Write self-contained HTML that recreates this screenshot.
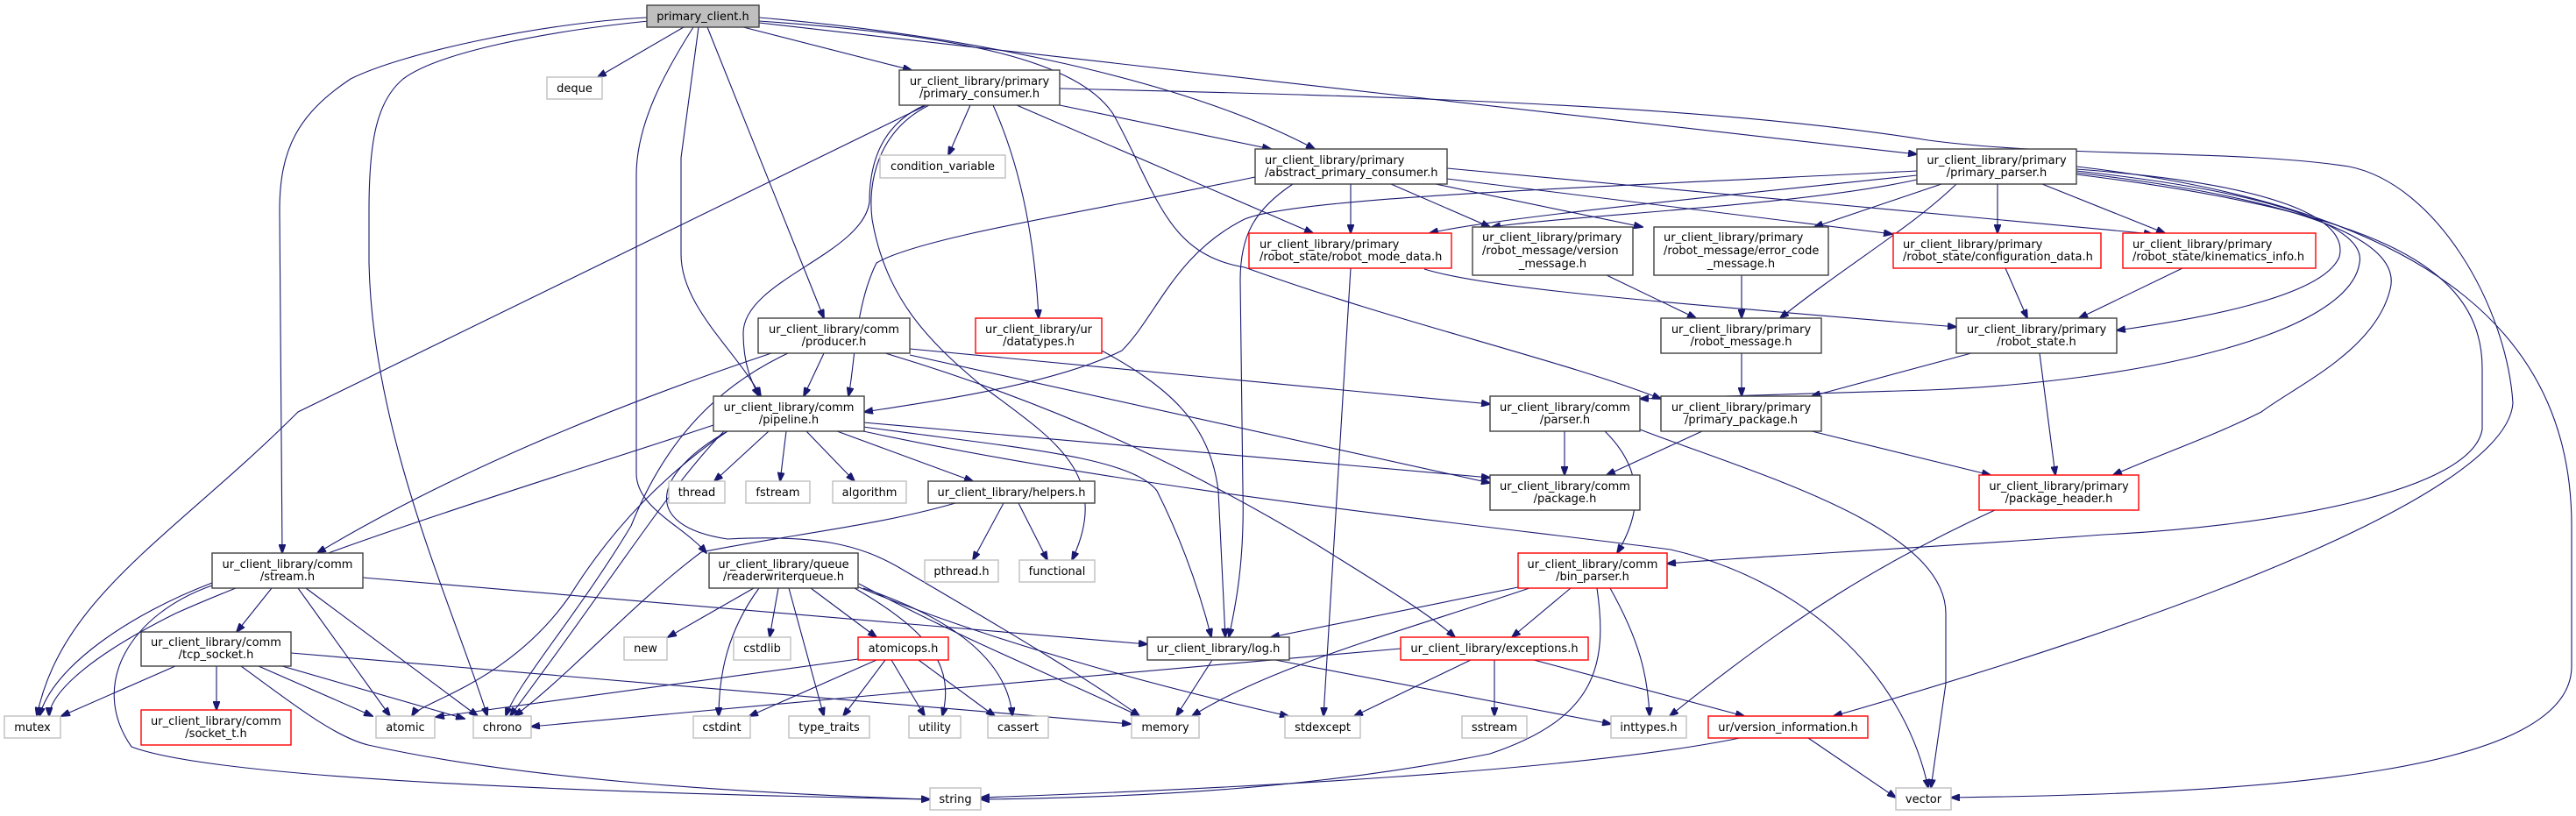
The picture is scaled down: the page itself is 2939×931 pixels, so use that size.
<!DOCTYPE html>
<html><head><meta charset="utf-8"><style>
html,body{margin:0;padding:0;background:#fff;}
svg{display:block;}
text{font-family:"DejaVu Sans","Liberation Sans",sans-serif;font-size:13px;fill:#000;}
.k{fill:#fff;stroke:#404040;stroke-width:1.4;}
.r{fill:#fff;stroke:#ff0000;stroke-width:1.4;}
.g{fill:#fff;stroke:#bfbfbf;stroke-width:1.4;}
.e{fill:none;stroke:#191970;stroke-width:1.1;marker-end:url(#a);}
.c{text-anchor:middle;}
</style></head><body>
<svg width="2939" height="931" viewBox="0 0 2939 931" xmlns="http://www.w3.org/2000/svg">
<defs><marker id="a" markerWidth="11" markerHeight="8" refX="10" refY="4" orient="auto" markerUnits="userSpaceOnUse"><path d="M0,0 L11,4 L0,8 z" fill="#191970" stroke="#191970"/></marker></defs>
<g>
<path class="e" d="M780,31 L682,88"/>
<path class="e" d="M738,20 C620,26 460,60 400,90 C340,130 319,170 319,240 L322,631"/>
<path class="e" d="M740,24 C620,36 500,60 460,90 C430,115 421,160 421,240 L421,300 C425,500 520,700 556,817"/>
<path class="e" d="M791,31 C760,80 726,140 726,200 L726,540 C726,580 780,600 806,631"/>
<path class="e" d="M797,31 L777,180 L777,290 C777,350 840,400 868,452"/>
<path class="e" d="M807,31 L940,363"/>
<path class="e" d="M848,31 L1040,80"/>
<path class="e" d="M866,20 C1100,40 1350,90 1500,170"/>
<path class="e" d="M866,26 L2187,176"/>
<path class="e" d="M866,24 C1100,40 1230,70 1270,130 C1320,220 1330,290 1420,305 C1600,370 1780,410 1895,455"/>
<path class="e" d="M1057,120 L340,470 C200,610 70,680 42,817"/>
<path class="e" d="M1055,120 C1010,140 992,180 992,230 C985,290 848,320 848,380 C848,420 860,440 866,452"/>
<path class="e" d="M1107,120 L1082,177"/>
<path class="e" d="M1133,120 C1160,180 1180,260 1185,363"/>
<path class="e" d="M1160,120 L1498,266"/>
<path class="e" d="M1209,120 L1450,170"/>
<path class="e" d="M1060,120 C1000,150 990,210 995,250 C1010,340 1060,390 1120,440 C1200,500 1270,540 1223,639"/>
<path class="e" d="M1209,101 C1600,110 1950,120 2200,160 C2350,180 2550,170 2680,190 C2780,210 2860,350 2867,460 C2860,560 2500,700 2092,817"/>
<path class="e" d="M1432,202 C1250,240 1050,270 1000,300 C975,350 975,420 968,452"/>
<path class="e" d="M1475,210 C1430,240 1415,270 1415,320 L1418,560 C1420,640 1410,690 1402,727"/>
<path class="e" d="M1541,210 L1541,266"/>
<path class="e" d="M1587,210 L1700,259"/>
<path class="e" d="M1638,210 L1874,259"/>
<path class="e" d="M1651,204 L2159,267"/>
<path class="e" d="M1651,192 L2456,267"/>
<path class="e" d="M2187,195 C1800,215 1480,225 1420,250 C1340,290 1320,360 1280,400 C1200,440 1050,460 986,470"/>
<path class="e" d="M2187,200 C1900,230 1700,250 1631,266"/>
<path class="e" d="M2187,205 C2050,235 1800,245 1702,259"/>
<path class="e" d="M2215,210 L2070,259"/>
<path class="e" d="M2232,210 C2180,260 2110,300 2031,363"/>
<path class="e" d="M2279,210 L2279,266"/>
<path class="e" d="M2330,210 L2470,266"/>
<path class="e" d="M2369,193 C2600,210 2680,250 2669,293 C2650,340 2500,365 2415,377"/>
<path class="e" d="M2369,195 C2600,220 2700,260 2692,300 C2680,380 2450,435 2200,445 L1871,455"/>
<path class="e" d="M2369,197 C2650,230 2740,280 2727,330 C2710,400 2620,440 2580,470 C2520,500 2460,520 2411,542"/>
<path class="e" d="M2369,199 C2700,240 2832,300 2832,420 L2832,490 C2820,560 2600,600 2400,610 C2200,625 2000,635 1902,643"/>
<path class="e" d="M2369,190 C2800,240 2934,400 2934,600 L2934,760 C2934,880 2600,905 2226,910"/>
<path class="e" d="M1625,307 C1700,330 1900,345 2232,373"/>
<path class="e" d="M1833,314 L1935,363"/>
<path class="e" d="M1987,314 L1987,363"/>
<path class="e" d="M2288,306 L2313,363"/>
<path class="e" d="M2490,306 L2372,363"/>
<path class="e" d="M1987,403 L1987,452"/>
<path class="e" d="M2249,403 L2067,452"/>
<path class="e" d="M2327,403 L2345,542"/>
<path class="e" d="M2067,492 L2271,542"/>
<path class="e" d="M1942,492 L1833,542"/>
<path class="e" d="M1541,306 L1510,817"/>
<path class="e" d="M1257,400 C1330,440 1380,480 1390,560 L1398,727"/>
<path class="e" d="M1785,492 L1785,542"/>
<path class="e" d="M1831,492 C1880,540 1870,590 1845,631"/>
<path class="e" d="M1871,490 C2000,540 2220,600 2220,700 L2220,780 L2203,899"/>
<path class="e" d="M2276,582 C2150,640 2050,700 1905,817"/>
<path class="e" d="M1732,670 L1450,727"/>
<path class="e" d="M1745,671 C1600,720 1450,760 1360,817"/>
<path class="e" d="M1792,671 L1725,727"/>
<path class="e" d="M1822,671 C1835,760 1820,820 1700,860 C1500,900 1300,910 1119,912"/>
<path class="e" d="M1837,671 C1870,730 1880,770 1882,817"/>
<path class="e" d="M1598,740 L1000,793 L606,829"/>
<path class="e" d="M1678,753 L1545,817"/>
<path class="e" d="M1705,753 L1705,817"/>
<path class="e" d="M1750,753 L1990,817"/>
<path class="e" d="M1383,753 L1342,817"/>
<path class="e" d="M1455,753 L1838,826"/>
<path class="e" d="M1985,842 C1800,880 1400,900 1119,910"/>
<path class="e" d="M2063,842 L2163,910"/>
<path class="e" d="M200,760 L70,817"/>
<path class="e" d="M247,760 L247,810"/>
<path class="e" d="M295,760 L425,817"/>
<path class="e" d="M322,760 L530,820"/>
<path class="e" d="M275,760 C330,800 380,840 420,850 C600,890 850,905 1061,912"/>
<path class="e" d="M332,745 L1290,826"/>
<path class="e" d="M310,671 L270,721"/>
<path class="e" d="M242,665 C150,700 60,760 45,817"/>
<path class="e" d="M340,671 L445,817"/>
<path class="e" d="M349,671 L545,817"/>
<path class="e" d="M242,668 C150,700 100,780 150,852 C250,890 700,905 1061,912"/>
<path class="e" d="M414,659 L1309,735"/>
<path class="e" d="M880,403 C650,480 480,560 362,631"/>
<path class="e" d="M940,403 L917,452"/>
<path class="e" d="M899,403 C820,440 760,500 720,600 C660,700 590,780 577,817"/>
<path class="e" d="M1038,398 L1700,461"/>
<path class="e" d="M1038,405 L1700,551"/>
<path class="e" d="M1010,403 C1200,460 1350,530 1500,620 C1580,670 1630,700 1660,727"/>
<path class="e" d="M814,485 C650,540 380,620 200,700 C80,760 56,800 56,817"/>
<path class="e" d="M830,492 C760,540 700,600 650,680 C580,780 480,800 470,817"/>
<path class="e" d="M826,492 C760,560 700,660 582,817"/>
<path class="e" d="M877,492 L815,549"/>
<path class="e" d="M897,492 L890,549"/>
<path class="e" d="M920,492 L975,549"/>
<path class="e" d="M955,492 L1110,549"/>
<path class="e" d="M985,482 L1700,545"/>
<path class="e" d="M985,487 C1150,510 1290,520 1320,560 C1350,620 1370,680 1382,727"/>
<path class="e" d="M985,492 C1300,560 1700,600 1906,627 C2050,660 2170,760 2200,899"/>
<path class="e" d="M830,492 C745,540 730,600 830,615 C930,610 980,620 1030,650 C1150,720 1250,780 1300,817"/>
<path class="e" d="M1145,574 L1110,639"/>
<path class="e" d="M1162,574 L1195,639"/>
<path class="e" d="M1090,574 C1000,600 900,610 800,630 C720,690 650,770 587,817"/>
<path class="e" d="M860,671 L762,727"/>
<path class="e" d="M866,671 C830,720 820,770 820,817"/>
<path class="e" d="M888,671 L878,727"/>
<path class="e" d="M900,671 L940,817"/>
<path class="e" d="M925,671 L1000,727"/>
<path class="e" d="M975,671 C1060,720 1090,760 1075,817"/>
<path class="e" d="M985,671 C1100,710 1150,760 1155,817"/>
<path class="e" d="M980,666 C1100,730 1200,770 1300,817"/>
<path class="e" d="M975,668 C1150,740 1350,790 1470,817"/>
<path class="e" d="M979,752 L497,818"/>
<path class="e" d="M1000,753 L855,817"/>
<path class="e" d="M1010,753 L962,817"/>
<path class="e" d="M1017,753 L1055,817"/>
<path class="e" d="M1048,753 L1135,817"/>
</g>
<rect x="738" y="6" width="128" height="25" fill="#bfbfbf" stroke="#404040" stroke-width="1.4"/>
<text class="c" x="802" y="23">primary_client.h</text>
<rect class="g" x="624" y="88" width="63" height="25"/><text class="c" x="655.5" y="105">deque</text>
<rect class="k" x="1026" y="80" width="183" height="40"/><text class="c" x="1117.5" y="97">ur_client_library/primary</text><text class="c" x="1117.5" y="111">/primary_consumer.h</text>
<rect class="g" x="1004" y="177" width="143" height="26"/><text class="c" x="1075.5" y="194">condition_variable</text>
<rect class="k" x="1432" y="170" width="219" height="40"/><text x="1443" y="187">ur_client_library/primary</text><text x="1443" y="201">/abstract_primary_consumer.h</text>
<rect class="k" x="2187" y="170" width="182" height="40"/><text class="c" x="2278" y="187">ur_client_library/primary</text><text class="c" x="2278" y="201">/primary_parser.h</text>
<rect class="r" x="1425" y="266" width="231" height="40"/><text x="1437" y="283">ur_client_library/primary</text><text x="1437" y="297">/robot_state/robot_mode_data.h</text>
<rect class="k" x="1680" y="259" width="183" height="55"/><text x="1691" y="275">ur_client_library/primary</text><text x="1691" y="290">/robot_message/version</text><text class="c" x="1771.5" y="305">_message.h</text>
<rect class="k" x="1887" y="259" width="199" height="55"/><text x="1898" y="275">ur_client_library/primary</text><text x="1898" y="290">/robot_message/error_code</text><text class="c" x="1986.5" y="305">_message.h</text>
<rect class="r" x="2160" y="266" width="237" height="40"/><text x="2171" y="283">ur_client_library/primary</text><text x="2171" y="297">/robot_state/configuration_data.h</text>
<rect class="r" x="2422" y="266" width="220" height="40"/><text x="2433" y="283">ur_client_library/primary</text><text x="2433" y="297">/robot_state/kinematics_info.h</text>
<rect class="k" x="865" y="363" width="173" height="40"/><text class="c" x="951.5" y="380">ur_client_library/comm</text><text class="c" x="951.5" y="394">/producer.h</text>
<rect class="r" x="1113" y="363" width="144" height="40"/><text class="c" x="1185" y="380">ur_client_library/ur</text><text class="c" x="1185" y="394">/datatypes.h</text>
<rect class="k" x="1895" y="363" width="183" height="40"/><text class="c" x="1986.5" y="380">ur_client_library/primary</text><text class="c" x="1986.5" y="394">/robot_message.h</text>
<rect class="k" x="2232" y="363" width="183" height="40"/><text class="c" x="2323.5" y="380">ur_client_library/primary</text><text class="c" x="2323.5" y="394">/robot_state.h</text>
<rect class="k" x="814" y="452" width="172" height="40"/><text class="c" x="900" y="469">ur_client_library/comm</text><text class="c" x="900" y="483">/pipeline.h</text>
<rect class="k" x="1700" y="452" width="171" height="40"/><text class="c" x="1785.5" y="469">ur_client_library/comm</text><text class="c" x="1785.5" y="483">/parser.h</text>
<rect class="k" x="1895" y="452" width="183" height="40"/><text class="c" x="1986.5" y="469">ur_client_library/primary</text><text class="c" x="1986.5" y="483">/primary_package.h</text>
<rect class="g" x="763" y="549" width="64" height="25"/><text class="c" x="795" y="566">thread</text>
<rect class="g" x="851" y="549" width="73" height="25"/><text class="c" x="887.5" y="566">fstream</text>
<rect class="g" x="950" y="549" width="84" height="25"/><text class="c" x="992" y="566">algorithm</text>
<rect class="k" x="1059" y="549" width="190" height="25"/><text class="c" x="1154" y="566">ur_client_library/helpers.h</text>
<rect class="k" x="1700" y="542" width="171" height="40"/><text class="c" x="1785.5" y="559">ur_client_library/comm</text><text class="c" x="1785.5" y="573">/package.h</text>
<rect class="r" x="2258" y="542" width="182" height="40"/><text class="c" x="2349" y="559">ur_client_library/primary</text><text class="c" x="2349" y="573">/package_header.h</text>
<rect class="k" x="242" y="631" width="172" height="40"/><text class="c" x="328" y="648">ur_client_library/comm</text><text class="c" x="328" y="662">/stream.h</text>
<rect class="k" x="809" y="631" width="170" height="40"/><text class="c" x="894" y="648">ur_client_library/queue</text><text class="c" x="894" y="662">/readerwriterqueue.h</text>
<rect class="g" x="1055" y="639" width="84" height="25"/><text class="c" x="1097" y="656">pthread.h</text>
<rect class="g" x="1163" y="639" width="86" height="25"/><text class="c" x="1206" y="656">functional</text>
<rect class="r" x="1732" y="631" width="170" height="40"/><text class="c" x="1817" y="648">ur_client_library/comm</text><text class="c" x="1817" y="662">/bin_parser.h</text>
<rect class="k" x="161" y="721" width="171" height="39"/><text class="c" x="246.5" y="737">ur_client_library/comm</text><text class="c" x="246.5" y="751">/tcp_socket.h</text>
<rect class="g" x="712" y="727" width="49" height="26"/><text class="c" x="736.5" y="744">new</text>
<rect class="g" x="837" y="727" width="65" height="26"/><text class="c" x="869.5" y="744">cstdlib</text>
<rect class="r" x="979" y="727" width="103" height="26"/><text class="c" x="1030.5" y="744">atomicops.h</text>
<rect class="k" x="1309" y="727" width="162" height="26"/><text class="c" x="1390" y="744">ur_client_library/log.h</text>
<rect class="r" x="1598" y="727" width="214" height="26"/><text class="c" x="1705" y="744">ur_client_library/exceptions.h</text>
<rect class="g" x="5" y="817" width="64" height="25"/><text class="c" x="37" y="834">mutex</text>
<rect class="r" x="161" y="810" width="171" height="40"/><text class="c" x="246.5" y="827">ur_client_library/comm</text><text class="c" x="246.5" y="841">/socket_t.h</text>
<rect class="g" x="429" y="817" width="67" height="25"/><text class="c" x="462.5" y="834">atomic</text>
<rect class="g" x="540" y="817" width="66" height="25"/><text class="c" x="573" y="834">chrono</text>
<rect class="g" x="791" y="817" width="65" height="25"/><text class="c" x="823.5" y="834">cstdint</text>
<rect class="g" x="900" y="817" width="92" height="25"/><text class="c" x="946" y="834">type_traits</text>
<rect class="g" x="1037" y="817" width="59" height="25"/><text class="c" x="1066.5" y="834">utility</text>
<rect class="g" x="1127" y="817" width="69" height="25"/><text class="c" x="1161.5" y="834">cassert</text>
<rect class="g" x="1291" y="817" width="77" height="25"/><text class="c" x="1329.5" y="834">memory</text>
<rect class="g" x="1466" y="817" width="86" height="25"/><text class="c" x="1509" y="834">stdexcept</text>
<rect class="g" x="1668" y="817" width="74" height="25"/><text class="c" x="1705" y="834">sstream</text>
<rect class="g" x="1838" y="817" width="86" height="25"/><text class="c" x="1881" y="834">inttypes.h</text>
<rect class="r" x="1949" y="817" width="182" height="25"/><text class="c" x="2040" y="834">ur/version_information.h</text>
<rect class="g" x="1061" y="899" width="58" height="25"/><text class="c" x="1090" y="916">string</text>
<rect class="g" x="2163" y="899" width="63" height="25"/><text class="c" x="2194.5" y="916">vector</text>
</svg>
</body></html>
